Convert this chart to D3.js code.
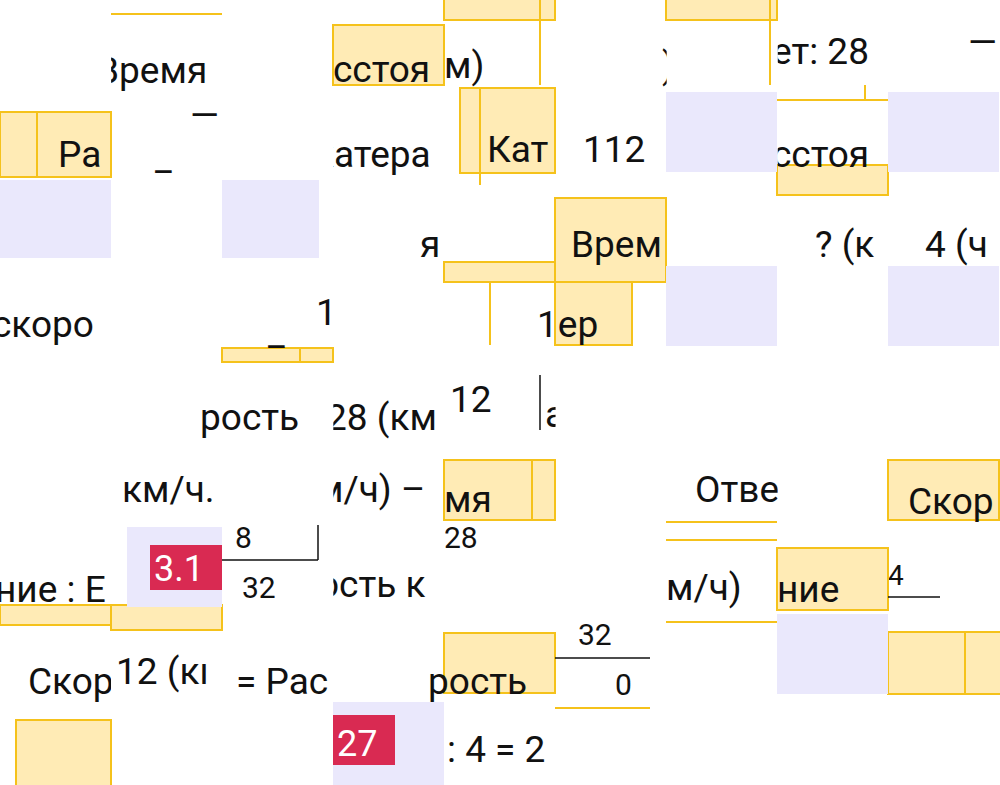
<!DOCTYPE html>
<html><head><meta charset="utf-8">
<script src="https://cdn.jsdelivr.net/npm/d3@7"></script>
<style>body{margin:0;background:#fff}svg{display:block}</style>
</head><body>
<script>
const cols=9, rows=7;
const yellowBoxes=[[333,25,111,60],[444,-2,111,22],[666,-2,111,22],[0,112,111,65],[460,88,95,85],[777,165,111,30],[555,198,111,84],[444,262,111,20],[555,282,77,63],[222,348,111,14],[444,460,111,60],[888,460,111,60],[0,605,111,20],[111,605,111,25],[777,548,111,62],[16,720,95,70],[444,633,111,60],[888,632,115,62]];
const yellowLines=[[111,14,222,14],[540,0,540,85],[770,0,770,85],[777,100,888,100],[865,85,865,100],[37,112,37,177],[480,88,480,185],[490,282,490,345],[532,460,532,520],[666,522,777,522],[666,540,777,540],[666,622,777,622],[965,632,965,694],[555,708,650,708],[300,348,300,362]];
const lavender=[[0,180,111,78],[222,180,97,78],[666,92,111,80],[888,92,111,80],[666,266,111,80],[888,266,111,80],[127,527,95,80],[777,614,111,80],[333,702,111,83]];
const redLabels=[["3.1",150,545,72,45],["27",333,715,62,50]];
// [text, x, baseline, tileCol (-1 = no clip), size]
const texts=[["Время",96,83,1],["сстоя",333,82,3],["м)",444,78,4],[")",662,78,5],["ет: 28",772,64,7],["—",968,55,8],
["—",190,128,1],["_",155,170,1],["Ра",58,167,0],["катера",314,167,3],["Кат",487,162,4],["112",583,162,5],["сстоя",772,167,7],
["я",420,257,3],["Врем",571,257,5],["? (к",815,257,7],["4 (ч",925,257,8],
["скоро",-8,337,-1],["_",268,345,2],["1",316,325,2],["1ер",537,337,-1],["рость",200,430,-1],["28 (км",326,430,3],["12",450,412,4],["а.",545,427,4],
["км/ч.",122,502,1],["м/ч) –",316,502,3],["мя",444,512,4],["Отве",695,502,6],["Скор",908,514,8],["28",444,548,4,30],
["8",235,548,2,30],["32",242,598,2,30],["ние : Е",-5,602,0],["ость к",318,597,3],["м/ч)",666,600,6],["ние",777,602,7],["4",888,585,8,28],
["Скор",28,694,0],["12 (кı",116,684,1],["= Рас",236,694,2],["рость",428,694,-1],["32",578,645,5,30],["0",615,695,5,30],[": 4 = 2",447,762,4]];
const blackLines=[[222,560,318,560],[318,525,318,560],[540,375,540,430],[555,658,650,658],[888,597,940,597]];

const W=1000,H=785, tw=W/cols;
const svg=d3.select("body").append("svg").attr("width",W).attr("height",H);
const defs=svg.append("defs");
svg.selectAll(".yb").data(yellowBoxes).join("rect").attr("x",d=>d[0]).attr("y",d=>d[1]).attr("width",d=>d[2]).attr("height",d=>d[3]).attr("fill","#FFEBB5").attr("stroke","#F5C21B").attr("stroke-width",2);
svg.selectAll(".yl").data(yellowLines).join("line").attr("x1",d=>d[0]).attr("y1",d=>d[1]).attr("x2",d=>d[2]).attr("y2",d=>d[3]).attr("stroke","#F5C21B").attr("stroke-width",2);
svg.selectAll(".lv").data(lavender).join("rect").attr("x",d=>d[0]).attr("y",d=>d[1]).attr("width",d=>d[2]).attr("height",d=>d[3]).attr("fill","#EAE8FC");
const rl=svg.selectAll(".rl").data(redLabels).join("g");
rl.append("rect").attr("x",d=>d[1]).attr("y",d=>d[2]).attr("width",d=>d[3]).attr("height",d=>d[4]).attr("fill","#D92A52");
rl.append("text").attr("x",d=>d[1]+4).attr("y",d=>d[2]+d[4]-9).text(d=>d[0]).attr("fill","#fff").attr("font-family","Roboto").attr("font-size",36);
svg.selectAll(".bl").data(blackLines).join("line").attr("x1",d=>d[0]).attr("y1",d=>d[1]).attr("x2",d=>d[2]).attr("y2",d=>d[3]).attr("stroke","#111").attr("stroke-width",1.5);
texts.forEach((t,i)=>{
  const el=svg.append("text").attr("x",t[1]).attr("y",t[2]).text(t[0]).attr("font-family","Roboto").attr("font-size",t[4]||37).attr("fill","#111");
  if(t[3]>=0){
    defs.append("clipPath").attr("id","c"+i).append("rect").attr("x",t[3]*tw).attr("y",0).attr("width",tw).attr("height",H);
    el.attr("clip-path","url(#c"+i+")");
  }
});
</script>
</body></html>
